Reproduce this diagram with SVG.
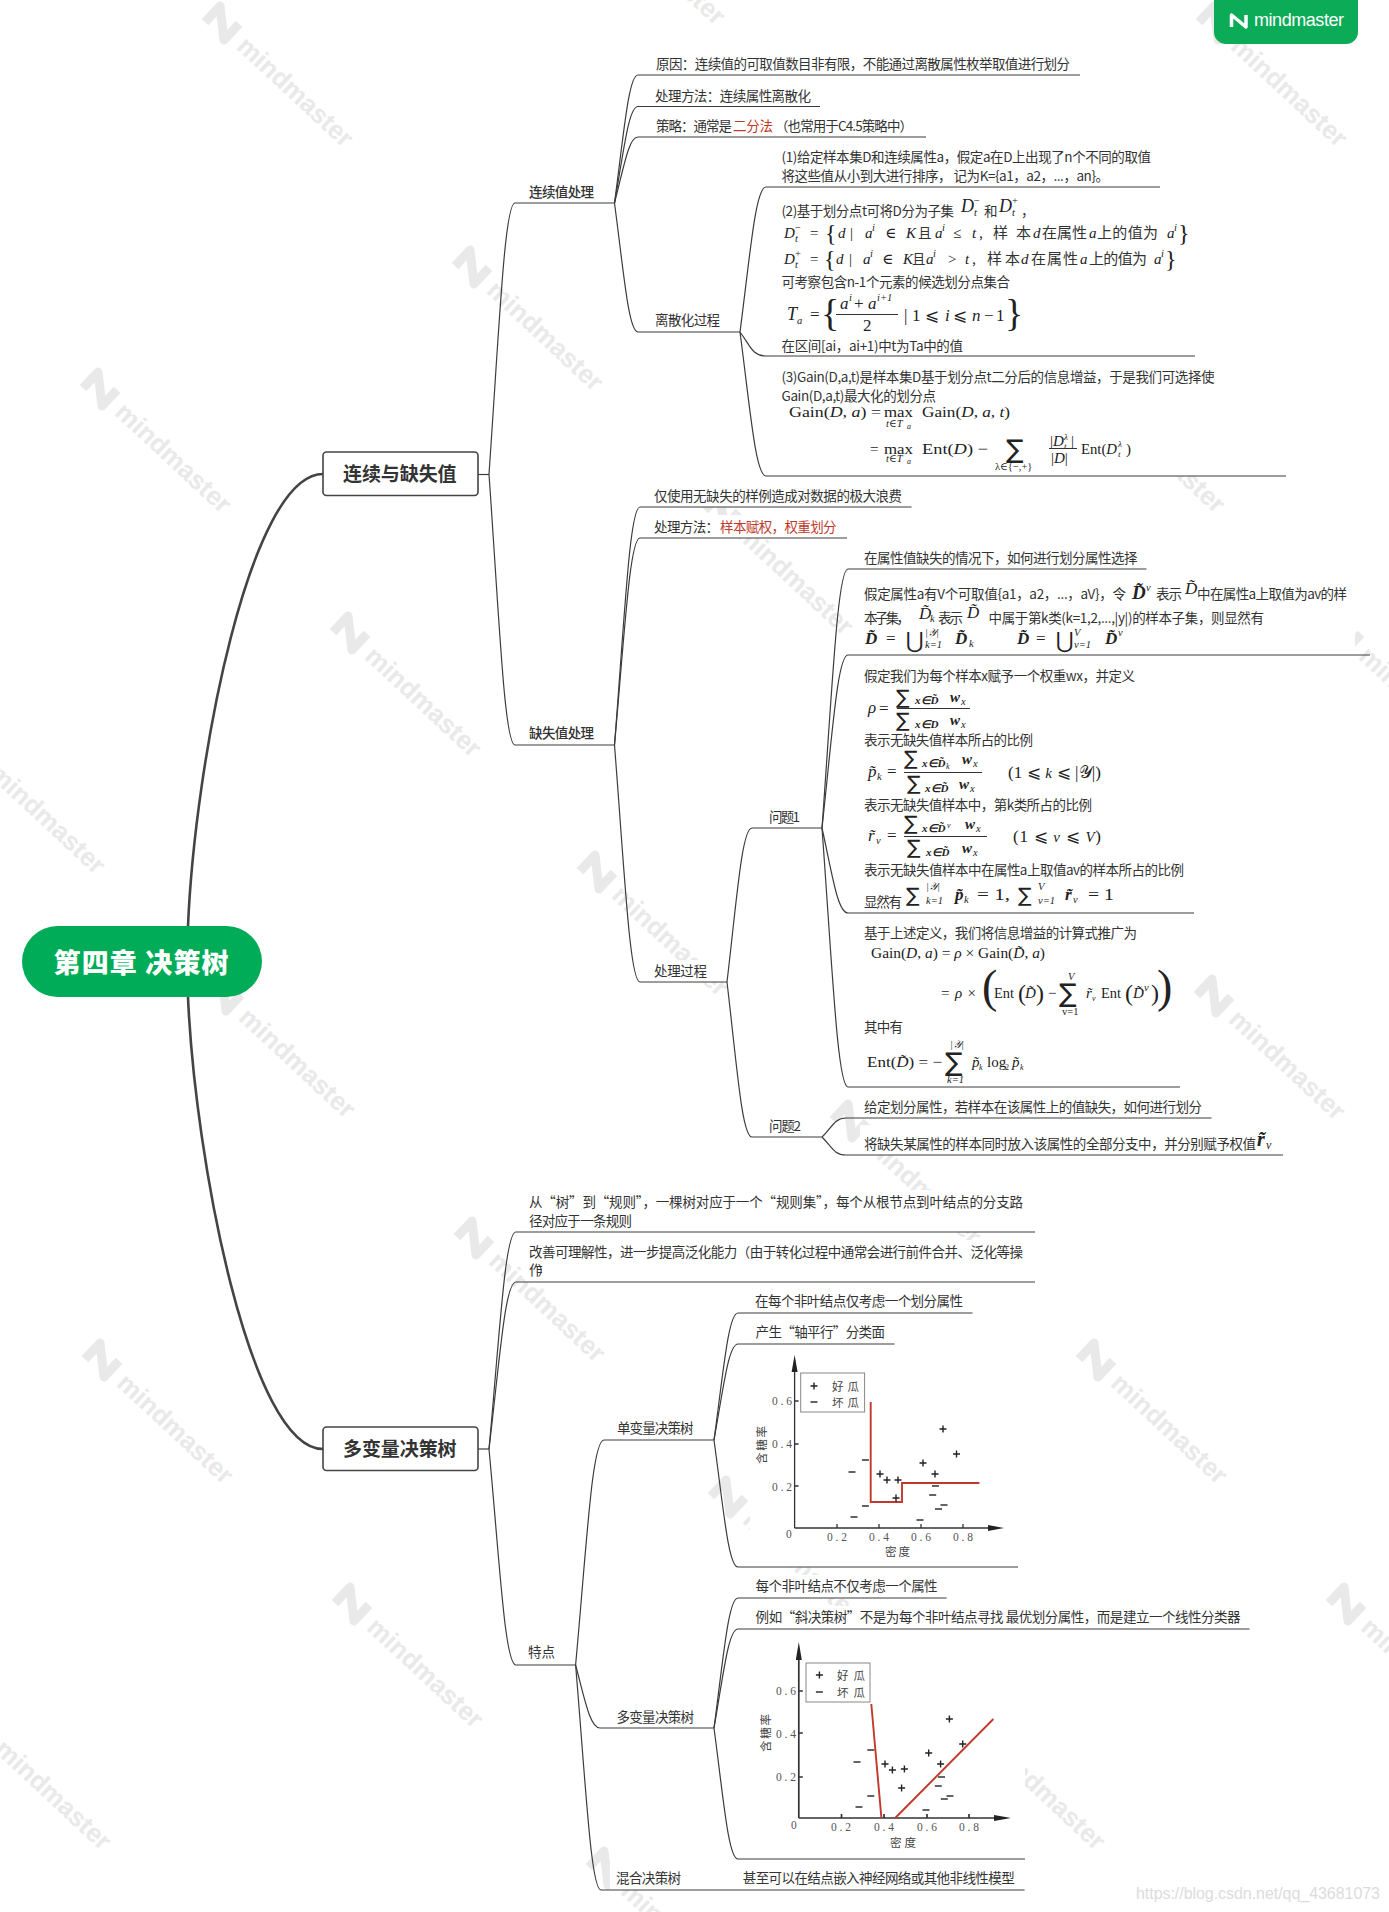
<svg xmlns="http://www.w3.org/2000/svg" width="1389" height="1912" viewBox="0 0 1389 1912">
<style>
text{font-family:"Noto Sans CJK SC","Noto Sans",sans-serif;font-size:13.5px;fill:#333}
.b{font-weight:500}
.red{fill:#c0392b}
.m,.mi,.s,.si,.big{font-family:"Liberation Serif","DejaVu Serif",serif;font-size:15px;fill:#222}
.mi,.si{font-style:italic}
.bi{font-family:"Liberation Serif",serif;font-style:italic;font-weight:bold;font-size:15px;fill:#222}
.s,.si{font-size:10.5px}
.big{font-size:24px}
.sum{font-family:"DejaVu Sans",sans-serif;font-size:20px;fill:#222}
.wm{font-family:"Liberation Sans",sans-serif;font-weight:700;font-size:26px;fill:#e9e9e9}
.wi{fill:none;stroke:#e9e9e9;stroke-width:9;stroke-linejoin:round}
.c path{fill:none;stroke:#3c3c3c;stroke-width:1.2}
.r path{fill:none;stroke:#444;stroke-width:2.6}
.ax{stroke:#333;stroke-width:1.3;fill:none}
.red-l{stroke:#c0392b;stroke-width:1.9;fill:none}
.pm{stroke:#222;stroke-width:1.4;fill:none}
.t{font-family:"Liberation Serif",serif;font-size:11.5px;fill:#555}
.z{font-family:"Noto Sans CJK SC",sans-serif;font-size:11.5px;fill:#444}
.bg{fill:#fff}
.fl{fill:none;stroke:#333;stroke-width:1}
</style>
<defs>
<g id="plus"><path class="pm" d="M-3.5 0H3.5M0-3.5V3.5"/></g>
<g id="minus"><path class="pm" d="M-3.5 0H3.5"/></g>
</defs>
<rect width="1389" height="1912" fill="#fff"/>
<g id="watermarks">
<g transform="translate(222 23) rotate(43)"><path class="wi" d="M-13 11V-11L13 11V-11"/><text class="wm" x="27" y="9">mindmaster</text></g>
<g transform="translate(472 267) rotate(43)"><path class="wi" d="M-13 11V-11L13 11V-11"/><text class="wm" x="27" y="9">mindmaster</text></g>
<g transform="translate(100 389) rotate(43)"><path class="wi" d="M-13 11V-11L13 11V-11"/><text class="wm" x="27" y="9">mindmaster</text></g>
<g transform="translate(350 633) rotate(43)"><path class="wi" d="M-13 11V-11L13 11V-11"/><text class="wm" x="27" y="9">mindmaster</text></g>
<g transform="translate(-26 750) rotate(43)"><path class="wi" d="M-13 11V-11L13 11V-11"/><text class="wm" x="27" y="9">mindmaster</text></g>
<g transform="translate(597 872) rotate(43)"><path class="wi" d="M-13 11V-11L13 11V-11"/><text class="wm" x="27" y="9">mindmaster</text></g>
<g transform="translate(224 994) rotate(43)"><path class="wi" d="M-13 11V-11L13 11V-11"/><text class="wm" x="27" y="9">mindmaster</text></g>
<g transform="translate(474 1238) rotate(43)"><path class="wi" d="M-13 11V-11L13 11V-11"/><text class="wm" x="27" y="9">mindmaster</text></g>
<g transform="translate(102 1360) rotate(43)"><path class="wi" d="M-13 11V-11L13 11V-11"/><text class="wm" x="27" y="9">mindmaster</text></g>
<g transform="translate(352 1604) rotate(43)"><path class="wi" d="M-13 11V-11L13 11V-11"/><text class="wm" x="27" y="9">mindmaster</text></g>
<g transform="translate(-20 1726) rotate(43)"><path class="wi" d="M-13 11V-11L13 11V-11"/><text class="wm" x="27" y="9">mindmaster</text></g>
<g transform="translate(722 511) rotate(43)"><path class="wi" d="M-13 11V-11L13 11V-11"/><text class="wm" x="27" y="9">mindmaster</text></g>
<g transform="translate(850 1121) rotate(43)"><path class="wi" d="M-13 11V-11L13 11V-11"/><text class="wm" x="27" y="9">mindmaster</text></g>
<g transform="translate(728 1497) rotate(43)"><path class="wi" d="M-13 11V-11L13 11V-11"/><text class="wm" x="27" y="9">mindmaster</text></g>
<g transform="translate(606 1868) rotate(43)"><path class="wi" d="M-13 11V-11L13 11V-11"/><text class="wm" x="27" y="9">mindmaster</text></g>
<g transform="translate(1096 1360) rotate(43)"><path class="wi" d="M-13 11V-11L13 11V-11"/><text class="wm" x="27" y="9">mindmaster</text></g>
<g transform="translate(1346 1604) rotate(43)"><path class="wi" d="M-13 11V-11L13 11V-11"/><text class="wm" x="27" y="9">mindmaster</text></g>
<g transform="translate(974 1726) rotate(43)"><path class="wi" d="M-13 11V-11L13 11V-11"/><text class="wm" x="27" y="9">mindmaster</text></g>
<g transform="translate(1214 996) rotate(43)"><path class="wi" d="M-13 11V-11L13 11V-11"/><text class="wm" x="27" y="9">mindmaster</text></g>
<g transform="translate(1344 633) rotate(43)"><path class="wi" d="M-13 11V-11L13 11V-11"/><text class="wm" x="27" y="9">mindmaster</text></g>
<g transform="translate(1094 389) rotate(43)"><path class="wi" d="M-13 11V-11L13 11V-11"/><text class="wm" x="27" y="9">mindmaster</text></g>
<g transform="translate(1216 23) rotate(43)"><path class="wi" d="M-13 11V-11L13 11V-11"/><text class="wm" x="27" y="9">mindmaster</text></g>
<g transform="translate(594 -99) rotate(43)"><path class="wi" d="M-13 11V-11L13 11V-11"/><text class="wm" x="27" y="9">mindmaster</text></g>
</g>
<g id="text-backgrounds">
<rect class="bg" x="645" y="50" width="436" height="25"/><rect class="bg" x="645" y="82" width="176" height="24"/><rect class="bg" x="645" y="113" width="282" height="24"/>
<rect class="bg" x="776" y="145" width="384" height="42"/><rect class="bg" x="776" y="190" width="420" height="166"/><rect class="bg" x="776" y="362" width="510" height="114"/>
<rect class="bg" x="645" y="308" width="95" height="24"/><rect class="bg" x="525" y="180" width="90" height="23"/>
<rect class="bg" x="645" y="484" width="267" height="23"/><rect class="bg" x="645" y="515" width="202" height="23"/><rect class="bg" x="525" y="722" width="90" height="23"/><rect class="bg" x="645" y="960" width="80" height="22"/>
<rect class="bg" x="860" y="546" width="287" height="23"/><rect class="bg" x="860" y="575" width="495" height="80"/><rect class="bg" x="860" y="660" width="334" height="253"/><rect class="bg" x="860" y="920" width="320" height="167"/>
<rect class="bg" x="860" y="1095" width="352" height="23"/><rect class="bg" x="860" y="1125" width="423" height="30"/>
<rect class="bg" x="525" y="1190" width="510" height="42"/><rect class="bg" x="525" y="1240" width="510" height="42"/>
<rect class="bg" x="750" y="1290" width="223" height="23"/><rect class="bg" x="750" y="1322" width="145" height="22"/><rect class="bg" x="750" y="1348" width="268" height="219"/>
<rect class="bg" x="750" y="1575" width="197" height="23"/><rect class="bg" x="750" y="1606" width="500" height="23"/><rect class="bg" x="750" y="1635" width="275" height="224"/><rect class="bg" x="738" y="1866" width="287" height="24"/>
<rect class="bg" x="610" y="1417" width="104" height="23"/><rect class="bg" x="610" y="1705" width="104" height="23"/><rect class="bg" x="610" y="1866" width="100" height="24"/>
</g>
<g id="connectors">
<g class="r">
<path d="M188 926C195 760 250 474 323 474"/>
<path d="M188 997C195 1160 250 1449 323 1449"/>
</g>
<g class="c">
<path d="M478 474.5H489"/>
<path d="M489 474C499.400 325 504.600 203 515 203H614.500"/>
<path d="M489 474C499.400 623 504.600 745 515 745H614.500"/>
<path d="M614.500 203C623.900 132.600 628.600 75 638 75H1080"/>
<path d="M614.500 203C623.900 150 628.600 106.500 638 106.500H820"/>
<path d="M614.500 203C623.900 167 628.600 137 638 137H926"/>
<path d="M614.500 203C623.900 274 628.600 332 638 332H740"/>
<path d="M740 332C750.400 252 755.600 187 766 187H1160"/>
<path d="M740 332C750 345 752 356 766 356H1195"/>
<path d="M740 332C750.400 411 755.600 476 766 476H1286"/>
<path d="M614.500 745C624.700 614 629.800 507 640 507H911.500"/>
<path d="M614.500 745C624.700 631 629.800 538 640 538H847"/>
<path d="M614.500 745C624.700 875 629.800 982 640 982H727"/>
<path d="M727 982C737 897 742 828 752 828H822"/>
<path d="M727 982C737 1067 742 1137 752 1137H822"/>
<path d="M822 828C832.400 685.600 837.600 569 848 569H1146.500"/>
<path d="M822 828C832.400 733 837.600 655 848 655H1370"/>
<path d="M822 828C832.400 875 837.600 913 848 913H1194"/>
<path d="M822 828C832.400 970 837.600 1087 848 1087H1180"/>
<path d="M822 1137C832 1128 834 1118 846 1118H1211.500"/>
<path d="M822 1137C832 1147 834 1155 846 1155H1283"/>
<path d="M478 1449H489"/>
<path d="M489 1449C500 1330 505 1232 516 1232H1035"/>
<path d="M489 1449C500 1357 505 1282 516 1282H1035"/>
<path d="M489 1449C500 1567 505 1665 516 1665H575.600"/>
<path d="M575.600 1665C587 1541 592 1440 604 1440H714"/>
<path d="M575.600 1665C585 1700 590 1728 600 1728H714"/>
<path d="M575.600 1665C586 1789 591 1890 601 1890H1024.600"/>
<path d="M714 1440C723.600 1370 728.400 1313 738 1313H972.500"/>
<path d="M714 1440C723.600 1387 728.400 1344 738 1344H894.500"/>
<path d="M714 1440C723.600 1510 728.400 1567 738 1567H1018"/>
<path d="M714 1728C723.600 1656 728.400 1598 738 1598H946.600"/>
<path d="M714 1728C723.600 1673 728.400 1629 738 1629H1249.600"/>
<path d="M714 1728C723.600 1800 728.400 1859 738 1859H1025"/>
</g>
</g>
<g id="root"><rect x="22" y="926" width="240" height="71" rx="35.500" fill="#00ac58"/><text x="53.600" y="973" textLength="175" style="font-size:27px;font-weight:900;fill:#fff">第四章 决策树</text></g>
<g id="branch1"><rect x="323" y="452" width="155" height="43.500" rx="3.500" fill="#fff" stroke="#444" stroke-width="1.600"/><text x="343" y="481" textLength="113.600" style="font-size:19px;font-weight:700;fill:#333">连续与缺失值</text></g>
<g id="branch2"><rect x="323" y="1427" width="155" height="43.500" rx="3.500" fill="#fff" stroke="#444" stroke-width="1.600"/><text x="343" y="1456" textLength="113.600" style="font-size:19px;font-weight:700;fill:#333">多变量决策树</text></g>
<g id="n-lianxu"><text class="b" x="529" y="197" textLength="65">连续值处理</text></g>
<g id="n-yuanyin"><text x="656" y="69" textLength="414">原因：连续值的可取值数目非有限，不能通过离散属性枚举取值进行划分</text></g>
<g id="n-fangfa"><text x="655" y="101" textLength="156">处理方法：连续属性离散化</text></g>
<g id="n-celve"><text x="656" y="131" textLength="76">策略：通常是</text><text class="red" x="733" y="131" textLength="40">二分法</text><text x="775" y="131" textLength="138">（也常用于C4.5策略中）</text></g>
<g id="n-lisan"><text x="655" y="325" textLength="65">离散化过程</text></g>
<g id="n-step1"><text x="781.500" y="162" textLength="369.500">(1)给定样本集D和连续属性a，假定a在D上出现了n个不同的取值</text><text x="781.500" y="181" textLength="327.500">将这些值从小到大进行排序， 记为K={a1，a2，...，an}。</text></g>
<g id="n-step2">
<text x="781.500" y="216" textLength="172.500">(2)基于划分点t可将D分为子集</text>
<text class="mi" x="961" y="212" style="font-size:18px">D</text><text class="si" x="974" y="216">t</text><text class="s" x="974" y="204">−</text><text x="984" y="216">和</text><text class="mi" x="999" y="212" style="font-size:18px">D</text><text class="si" x="1012" y="216">t</text><text class="s" x="1012" y="204">+</text><text x="1021" y="216">，</text>
<text class="mi" x="784" y="238">D</text><text class="si" x="795" y="242">t</text><text class="s" x="795" y="231">−</text><text class="m" x="810" y="238">=</text><text class="big" x="825" y="241">{</text><text class="mi" x="838" y="238">d</text><text class="m" x="850" y="238">|</text><text class="mi" x="865" y="238">a</text><text class="si" x="872" y="231">i</text><text class="m" x="885" y="238">∈</text><text class="mi" x="906" y="238">K</text><text x="918" y="238">且</text><text class="mi" x="935" y="238">a</text><text class="si" x="942" y="231">i</text><text class="m" x="953" y="238">≤</text><text class="mi" x="972" y="238">t</text><text x="979" y="238">,</text><text style="font-size:15px" x="993" y="238" textLength="38">样本</text><text class="mi" x="1033" y="238">d</text><text style="font-size:15px" x="1042" y="238" textLength="45">在属性</text><text class="mi" x="1089" y="238">a</text><text style="font-size:15px" x="1097" y="238" textLength="61">上的值为</text><text class="mi" x="1167" y="238">a</text><text class="si" x="1174" y="231">i</text><text class="big" x="1178" y="241">}</text>
<text class="mi" x="784" y="264">D</text><text class="si" x="795" y="268">t</text><text class="s" x="795" y="257">+</text><text class="m" x="810" y="264">=</text><text class="big" x="824" y="267">{</text><text class="mi" x="836" y="264">d</text><text class="m" x="849" y="264">|</text><text class="mi" x="863" y="264">a</text><text class="si" x="870" y="257">i</text><text class="m" x="882" y="264">∈</text><text class="mi" x="903" y="264">K</text><text x="912" y="264">且</text><text class="mi" x="926" y="264">a</text><text class="si" x="933" y="257">i</text><text class="m" x="948" y="264">&gt;</text><text class="mi" x="965" y="264">t</text><text x="972" y="264">,</text><text style="font-size:15px" x="987" y="264" textLength="33">样本</text><text class="mi" x="1021" y="264">d</text><text style="font-size:15px" x="1031" y="264" textLength="47">在属性</text><text class="mi" x="1080" y="264">a</text><text style="font-size:15px" x="1089" y="264" textLength="58">上的值为</text><text class="mi" x="1154" y="264">a</text><text class="si" x="1161" y="257">i</text><text class="big" x="1165" y="267">}</text>
<text x="781.500" y="287" textLength="228.500">可考察包含n-1个元素的候选划分点集合</text>
<text class="mi" x="787" y="320" style="font-size:18px">T</text><text class="si" x="797" y="324">a</text><text class="m" x="810" y="320" style="font-size:17px">=</text><text class="big" x="821" y="326" style="font-size:38px">{</text>
<text class="mi" x="840" y="309" style="font-size:17px">a</text><text class="si" x="849" y="301">i</text><text class="m" x="854" y="309" style="font-size:17px">+</text><text class="mi" x="868" y="309" style="font-size:17px">a</text><text class="si" x="877" y="301">i+1</text><path class="fl" d="M836 314.500H898"/><text class="m" x="863" y="331" style="font-size:17px">2</text>
<text class="m" x="904" y="321" style="font-size:17px">|</text><text class="m" x="912" y="321" style="font-size:17px">1</text><text class="m" x="925" y="321" style="font-size:17px">⩽</text><text class="mi" x="945" y="321" style="font-size:17px">i</text><text class="m" x="953" y="321" style="font-size:17px">⩽</text><text class="mi" x="972" y="321" style="font-size:17px">n</text><text class="m" x="984" y="321" style="font-size:17px">−</text><text class="m" x="996" y="321" style="font-size:17px">1</text><text class="big" x="1005" y="326" style="font-size:38px">}</text>
<text x="781.500" y="351" textLength="181.500">在区间[ai，ai+1)中t为Ta中的值</text>
</g>
<g id="n-step3">
<text x="781.500" y="382" textLength="433">(3)Gain(D,a,t)是样本集D基于划分点t二分后的信息增益，于是我们可选择使</text>
<text x="781.500" y="401" textLength="154.500">Gain(D,a,t)最大化的划分点</text>
<text class="m" x="789" y="417" textLength="92" lengthAdjust="spacingAndGlyphs">Gain(<tspan class="mi">D</tspan>, <tspan class="mi">a</tspan>) =</text><text class="m" x="884" y="417" textLength="29" lengthAdjust="spacingAndGlyphs">max</text><text class="si" x="886" y="427">t∈T</text><text class="si" x="907" y="429" style="font-size:8px">a</text><text class="m" x="922" y="417" textLength="88" lengthAdjust="spacingAndGlyphs">Gain(<tspan class="mi">D</tspan>, <tspan class="mi">a</tspan>, <tspan class="mi">t</tspan>)</text>
<text class="m" x="870" y="454">=</text><text class="m" x="884" y="454" textLength="29" lengthAdjust="spacingAndGlyphs">max</text><text class="si" x="886" y="462">t∈T</text><text class="si" x="907" y="464" style="font-size:8px">a</text><text class="m" x="922" y="454" textLength="66" lengthAdjust="spacingAndGlyphs">Ent(<tspan class="mi">D</tspan>) −</text>
<text class="sum" x="1006" y="458" style="font-size:26px">∑</text><text class="s" x="995" y="470">λ∈{−,+}</text>
<text class="m" x="1050" y="446">|<tspan class="mi">D</tspan></text><text class="si" x="1064" y="449" style="font-size:9px">t</text><text class="si" x="1064" y="440" style="font-size:9px">λ</text><text class="m" x="1071" y="446">|</text><path class="fl" d="M1049 448.500H1077"/><text class="m" x="1051" y="463">|<tspan class="mi">D</tspan>|</text>
<text class="m" x="1081" y="454" textLength="36" lengthAdjust="spacingAndGlyphs">Ent(<tspan class="mi">D</tspan></text><text class="si" x="1118" y="457" style="font-size:9px">t</text><text class="si" x="1118" y="447" style="font-size:9px">λ</text><text class="m" x="1126" y="454">)</text>
</g>
<g id="n-queshi"><text class="b" x="529" y="738" textLength="65">缺失值处理</text></g>
<g id="n-jin"><text x="654" y="501" textLength="248">仅使用无缺失的样例造成对数据的极大浪费</text></g>
<g id="n-fangfa2"><text x="654" y="532" textLength="65">处理方法：</text><text class="red" x="720" y="532" textLength="116.500">样本赋权，权重划分</text></g>
<g id="n-guocheng"><text x="654" y="976" textLength="53">处理过程</text></g>
<g id="n-q1"><text x="769" y="822" textLength="31">问题1</text></g>
<g id="n-q2"><text x="769" y="1131" textLength="32">问题2</text></g>
<g id="n-q1a"><text x="864" y="563" textLength="273.500">在属性值缺失的情况下，如何进行划分属性选择</text></g>
<g id="n-q1b">
<text x="864" y="599" textLength="262">假定属性a有V个可取值{a1，a2，...，aV}，令</text><text class="bi" x="1132" y="599" style="font-size:19px">D̃</text><text class="si" x="1146" y="591">v</text><text x="1156" y="599" textLength="26">表示</text><text class="mi" x="1185" y="594" style="font-size:17px">D̃</text><text x="1197" y="599" textLength="150">中在属性a上取值为av的样</text>
<text x="864" y="623" textLength="46">本子集，</text><text class="mi" x="919" y="619" style="font-size:17px">D̃</text><text class="si" x="930" y="622">k</text><text x="938" y="623" textLength="25">表示</text><text class="mi" x="967" y="618" style="font-size:17px">D̃</text><text x="988.500" y="623" textLength="275.500">中属于第k类(k=1,2,...,|y|)的样本子集，则显然有</text>
<text class="bi" x="865" y="644" style="font-size:17px">D̃</text><text class="m" x="886" y="644" style="font-size:17px">=</text><text class="sum" x="906" y="648" style="font-size:22px">⋃</text><text class="si" x="925" y="636">|𝒴|</text><text class="si" x="925" y="648">k=1</text><text class="bi" x="955" y="644" style="font-size:17px">D̃</text><text class="si" x="969" y="647">k</text>
<text class="bi" x="1017" y="644" style="font-size:17px">D̃</text><text class="m" x="1036" y="644" style="font-size:17px">=</text><text class="sum" x="1056" y="648" style="font-size:22px">⋃</text><text class="si" x="1074" y="636">V</text><text class="si" x="1074" y="648">v=1</text><text class="bi" x="1105" y="644" style="font-size:17px">D̃</text><text class="si" x="1118" y="636">v</text>
</g>
<g id="n-q1c">
<text x="864" y="681" textLength="271">假定我们为每个样本x赋予一个权重wx，并定义</text>
<text class="mi" x="868" y="713" style="font-size:17px">ρ</text><text class="m" x="879" y="714" style="font-size:17px">=</text><path class="fl" d="M897 708.500H970"/>
<text class="sum" x="896" y="704">∑</text><text class="bi" x="915" y="704" style="font-size:11px">x∈D̃</text><text class="bi" x="950" y="702">w</text><text class="si" x="961" y="705">x</text>
<text class="sum" x="896" y="727">∑</text><text class="bi" x="915" y="728" style="font-size:11px">x∈D</text><text class="bi" x="950" y="725">w</text><text class="si" x="961" y="728">x</text>
<text x="864" y="745" textLength="169">表示无缺失值样本所占的比例</text>
<text class="mi" x="868" y="777" style="font-size:17px">p̃</text><text class="si" x="877" y="780">k</text><text class="m" x="887" y="777" style="font-size:17px">=</text><path class="fl" d="M904 772.500H982"/>
<text class="sum" x="904" y="765">∑</text><text class="bi" x="922" y="767" style="font-size:11px">x∈D̃</text><text class="si" x="946" y="769" style="font-size:8px">k</text><text class="bi" x="962" y="764">w</text><text class="si" x="973" y="767">x</text>
<text class="sum" x="907" y="790">∑</text><text class="bi" x="925" y="792" style="font-size:11px">x∈D̃</text><text class="bi" x="959" y="789">w</text><text class="si" x="970" y="792">x</text>
<text class="m" x="1008" y="778" style="font-size:17px" textLength="93">(1 ⩽ <tspan class="mi">k</tspan> ⩽ |𝒴|)</text>
<text x="864" y="810" textLength="228">表示无缺失值样本中，第k类所占的比例</text>
<text class="mi" x="868" y="841" style="font-size:17px">r̃</text><text class="si" x="876" y="844">v</text><text class="m" x="887" y="841" style="font-size:17px">=</text><path class="fl" d="M904 836.500H987"/>
<text class="sum" x="904" y="830">∑</text><text class="bi" x="922" y="832" style="font-size:11px">x∈D̃</text><text class="si" x="947" y="828" style="font-size:8px">v</text><text class="bi" x="965" y="829">w</text><text class="si" x="976" y="832">x</text>
<text class="sum" x="907" y="854">∑</text><text class="bi" x="926" y="856" style="font-size:11px">x∈D̃</text><text class="bi" x="962" y="853">w</text><text class="si" x="973" y="856">x</text>
<text class="m" x="1013" y="842" style="font-size:17px" textLength="88">(1 ⩽ <tspan class="mi">v</tspan> ⩽ <tspan class="mi">V</tspan>)</text>
<text x="864" y="875" textLength="320">表示无缺失值样本中在属性a上取值av的样本所占的比例</text>
<text x="864" y="907" textLength="38">显然有</text><text class="sum" x="906" y="902" style="font-size:20px">∑</text><text class="si" x="926" y="890">|𝒴|</text><text class="si" x="926" y="904">k=1</text><text class="bi" x="955" y="900" style="font-size:17px">p̃</text><text class="si" x="964" y="903">k</text><text class="m" x="977" y="900" style="font-size:17px" textLength="33" lengthAdjust="spacingAndGlyphs">= 1,</text><text class="sum" x="1018" y="902" style="font-size:20px">∑</text><text class="si" x="1038" y="890">V</text><text class="si" x="1038" y="904">v=1</text><text class="bi" x="1065" y="900" style="font-size:17px">r̃</text><text class="si" x="1073" y="903">v</text><text class="m" x="1088" y="900" style="font-size:17px" textLength="26" lengthAdjust="spacingAndGlyphs">= 1</text>
</g>
<g id="n-q1d">
<text x="864" y="938" textLength="273">基于上述定义，我们将信息增益的计算式推广为</text>
<text class="m" x="871" y="958" textLength="174" lengthAdjust="spacingAndGlyphs">Gain(<tspan class="mi">D</tspan>, <tspan class="mi">a</tspan>) = <tspan class="mi">ρ</tspan> × Gain(<tspan class="mi">D̃</tspan>, <tspan class="mi">a</tspan>)</text>
<text class="m" x="941" y="998" textLength="35">= <tspan class="mi">ρ</tspan> ×</text><text class="big" x="982" y="1002" style="font-size:46px">(</text><text class="m" x="994" y="998" textLength="20" lengthAdjust="spacingAndGlyphs">Ent</text><text class="big" x="1018" y="1001">(</text><text class="mi" x="1025" y="998">D̃</text><text class="big" x="1036" y="1001">)</text><text class="m" x="1048" y="998">−</text><text class="sum" x="1059" y="1002" style="font-size:26px">∑</text><text class="si" x="1068" y="980">V</text><text class="s" x="1062" y="1015">v=1</text><text class="mi" x="1086" y="998">r̃</text><text class="si" x="1092" y="1001" style="font-size:8px">v</text><text class="m" x="1101" y="998" textLength="20" lengthAdjust="spacingAndGlyphs">Ent</text><text class="big" x="1125" y="1001">(</text><text class="mi" x="1133" y="998">D̃</text><text class="si" x="1144" y="991">v</text><text class="big" x="1151" y="1001">)</text><text class="big" x="1157" y="1002" style="font-size:46px">)</text>
<text x="864" y="1032" textLength="39">其中有</text>
<text class="m" x="867" y="1067" textLength="75" lengthAdjust="spacingAndGlyphs">Ent(<tspan class="mi">D̃</tspan>) = −</text><text class="sum" x="945" y="1071" style="font-size:26px">∑</text><text class="si" x="950" y="1048">|𝒴|</text><text class="si" x="947" y="1083">k=1</text><text class="mi" x="972" y="1067">p̃</text><text class="si" x="979" y="1070" style="font-size:8px">k</text><text class="m" x="987" y="1067">log</text><text class="s" x="1005" y="1070" style="font-size:8px">2</text><text class="mi" x="1012" y="1067">p̃</text><text class="si" x="1020" y="1070" style="font-size:8px">k</text>
</g>
<g id="n-q2a"><text x="864" y="1112" textLength="338">给定划分属性，若样本在该属性上的值缺失，如何进行划分</text></g>
<g id="n-q2b"><text x="864" y="1149" textLength="392">将缺失某属性的样本同时放入该属性的全部分支中，并分别赋予权值</text><text class="bi" x="1257" y="1146" style="font-size:20px">r̃</text><text class="si" x="1266" y="1149" style="font-size:12px">v</text></g>
<g id="n-cong"><text x="529" y="1207" textLength="494">从“树”到“规则”，一棵树对应于一个“规则集”，每个从根节点到叶结点的分支路</text><text x="529" y="1226" textLength="103">径对应于一条规则</text></g>
<g id="n-gaishan"><text x="529" y="1257" textLength="494">改善可理解性，进一步提高泛化能力（由于转化过程中通常会进行前件合并、泛化等操</text><text x="529" y="1275" textLength="22">作）</text></g>
<g id="n-tedian"><text x="528" y="1657" textLength="27">特点</text></g>
<g id="n-danbian"><text x="617" y="1433" textLength="76.500">单变量决策树</text></g>
<g id="n-dan1"><text x="755" y="1306" textLength="208">在每个非叶结点仅考虑一个划分属性</text></g>
<g id="n-dan2"><text x="755.500" y="1337" textLength="129.500">产生“轴平行”分类面</text></g>
<g id="n-dan-chart">
<path class="ax" d="M794.600 1528V1360M794.600 1528H996M837 1528v-4M879 1528v-4M921 1528v-4M963 1528v-4M794.600 1401h4M794.600 1444h4M794.600 1486h4"/>
<path d="M791.600 1372L794.600 1355L797.600 1372ZM988 1525L1004 1528L988 1531Z" fill="#222"/>
<rect x="800.700" y="1373" width="63.900" height="39" fill="#fff" stroke="#888" stroke-width="1"/>
<use href="#plus" x="814" y="1386"/><use href="#minus" x="814" y="1402"/>
<text class="z" x="832" y="1391" textLength="27">好瓜</text><text class="z" x="832" y="1407" textLength="27">坏瓜</text>
<text class="t" x="786" y="1538">0</text><text class="t" x="827" y="1541" textLength="20">0.2</text><text class="t" x="869" y="1541" textLength="20">0.4</text><text class="t" x="911" y="1541" textLength="20">0.6</text><text class="t" x="953" y="1541" textLength="20">0.8</text>
<text class="t" x="772" y="1405" textLength="20">0.6</text><text class="t" x="772" y="1448" textLength="20">0.4</text><text class="t" x="772" y="1491" textLength="20">0.2</text>
<text class="z" x="885" y="1556" textLength="25">密度</text><text class="z" transform="translate(766 1464) rotate(-90)" textLength="38">含糖率</text>
<path class="red-l" d="M870.700 1402V1502H902V1483H979.400"/>
<use href="#plus" x="943" y="1429"/><use href="#plus" x="956.500" y="1454"/><use href="#plus" x="923" y="1463"/><use href="#plus" x="935" y="1474"/><use href="#plus" x="880" y="1474"/><use href="#plus" x="887" y="1480"/><use href="#plus" x="898" y="1480"/><use href="#plus" x="896" y="1498"/>
<use href="#minus" x="865.400" y="1460"/><use href="#minus" x="852" y="1472"/><use href="#minus" x="935.400" y="1486"/><use href="#minus" x="932.700" y="1495"/><use href="#minus" x="944" y="1505"/><use href="#minus" x="938.500" y="1509"/><use href="#minus" x="865.400" y="1506"/><use href="#minus" x="854" y="1517"/><use href="#minus" x="920" y="1520"/>
</g>
<g id="n-duobian"><text x="616.500" y="1722" textLength="77.500">多变量决策树</text></g>
<g id="n-duo1"><text x="755.600" y="1591" textLength="182">每个非叶结点不仅考虑一个属性</text></g>
<g id="n-duo2"><text x="755.600" y="1622" textLength="485">例如“斜决策树”不是为每个非叶结点寻找 最优划分属性，而是建立一个线性分类器</text></g>
<g id="n-duo-chart">
<path class="ax" style="stroke-width:1.7" d="M798.800 1818V1650M798.800 1818H1000M841.500 1818v-4M884 1818v-4M927 1818v-4M969 1818v-4M798.800 1691h4M798.800 1733h4M798.800 1777h4"/>
<path d="M795.800 1660L798.800 1642L801.800 1660ZM994 1815L1011 1818L994 1821Z" fill="#222"/>
<rect x="806" y="1663" width="64" height="39" fill="#fff" stroke="#888" stroke-width="1"/>
<use href="#plus" x="819.400" y="1675"/><use href="#minus" x="819.400" y="1692"/>
<text class="z" x="837" y="1680" textLength="28">好瓜</text><text class="z" x="837" y="1697" textLength="28">坏瓜</text>
<text class="t" x="791" y="1829">0</text><text class="t" x="831" y="1831" textLength="20">0.2</text><text class="t" x="874" y="1831" textLength="20">0.4</text><text class="t" x="917" y="1831" textLength="20">0.6</text><text class="t" x="959" y="1831" textLength="20">0.8</text>
<text class="t" x="776" y="1695" textLength="20">0.6</text><text class="t" x="776" y="1738" textLength="20">0.4</text><text class="t" x="776" y="1781" textLength="20">0.2</text>
<text class="z" x="890" y="1847" textLength="26">密度</text><text class="z" transform="translate(770 1752) rotate(-90)" textLength="38">含糖率</text>
<path class="red-l" d="M871.300 1704L881.400 1818M895.200 1818L993.400 1719"/>
<use href="#plus" x="949.400" y="1719"/><use href="#plus" x="962.700" y="1744"/><use href="#plus" x="928.700" y="1753"/><use href="#plus" x="940.600" y="1764"/><use href="#plus" x="885" y="1764"/><use href="#plus" x="892.400" y="1770"/><use href="#plus" x="904.400" y="1769"/><use href="#plus" x="901.600" y="1788"/>
<use href="#minus" x="870.800" y="1750"/><use href="#minus" x="857" y="1762"/><use href="#minus" x="941.500" y="1777"/><use href="#minus" x="938.300" y="1786"/><use href="#minus" x="950" y="1796"/><use href="#minus" x="944.300" y="1799"/><use href="#minus" x="870.800" y="1796"/><use href="#minus" x="859" y="1807"/><use href="#minus" x="926" y="1810"/>
</g>
<g id="n-hunhe"><text x="616" y="1883" textLength="65">混合决策树</text></g>
<g id="n-hunhe1"><text x="742.700" y="1883" textLength="272">甚至可以在结点嵌入神经网络或其他非线性模型</text></g>
<g id="logo">
<path d="M1214 0H1358V32a12 12 0 0 1-12 12H1226a12 12 0 0 1-12-12Z" fill="#0bab57"/>
<path d="M1231.500 27V15L1246 27V15" fill="none" stroke="#fff" stroke-width="3.500" stroke-linejoin="round"/>
<text x="1254" y="26" textLength="90" style="font-family:'Liberation Sans',sans-serif;font-size:18px;fill:#fff">mindmaster</text>
</g>
<text id="csdn" x="1136" y="1899" textLength="244" style="font-family:'Liberation Sans',sans-serif;font-size:16px;fill:#dcdcdc">https://blog.csdn.net/qq_43681073</text>
</svg>
